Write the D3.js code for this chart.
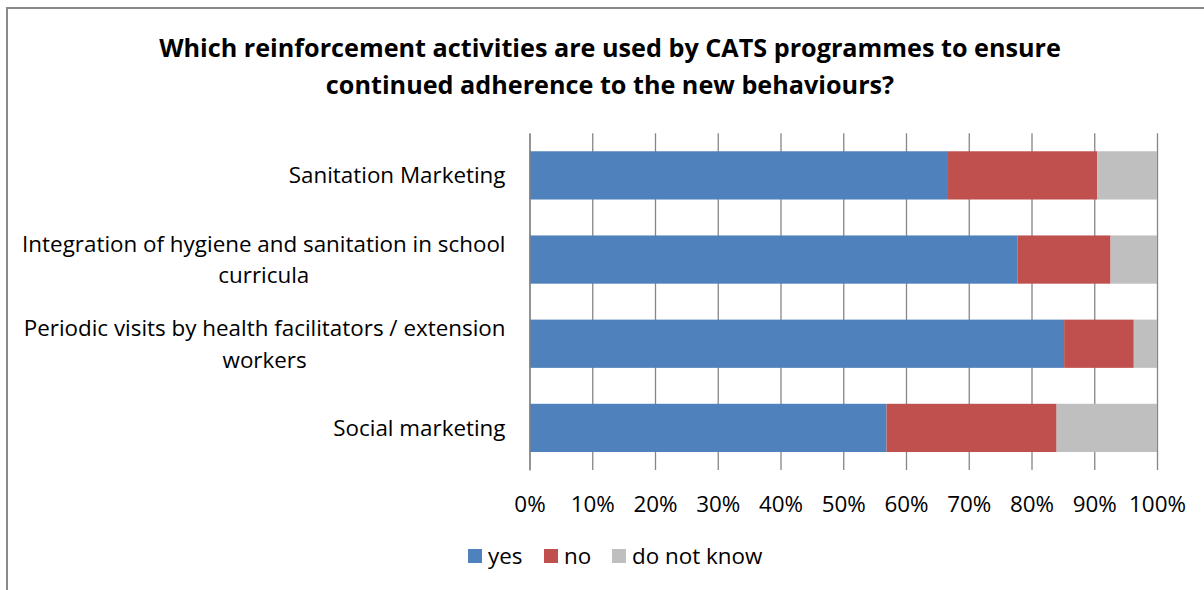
<!DOCTYPE html>
<html>
<head>
<meta charset="utf-8">
<script src="https://cdn.jsdelivr.net/npm/d3@7"></script>
<style>
  html, body { margin: 0; padding: 0; background: #fff; }
  svg { display: block; }
  text { font-family: "Open Sans", "Noto Sans", sans-serif; fill: #000; }
</style>
</head>
<body>
<svg id="chart" width="1204" height="590"></svg>
<script>
// Survey answers per reinforcement activity (share of programmes, %)
const categories = [
  "Sanitation Marketing",
  "Integration of hygiene and sanitation in school curricula",
  "Periodic visits by health facilitators / extension workers",
  "Social marketing"
];
const seriesNames = ["yes", "no", "do not know"];
const yesValues = [66.7, 77.8, 85.2, 56.9];
const noValues = [23.8, 14.8, 11.1, 27.1];
const dontKnowValues = [9.5, 7.4, 3.7, 16.0];
const tickValues = [0, 0.1, 0.2, 0.3, 0.4, 0.5, 0.6, 0.7, 0.8, 0.9, 1.0];
const titleLines = [
  "Which reinforcement activities are used by CATS programmes to ensure",
  "continued adherence to the new behaviours?"
];
const colors = ["#4F81BD", "#C0504D", "#BFBFBF"];

const FONT = "'Open Sans', 'Noto Sans', sans-serif";
const LABEL_SIZE = 22.4;
const svg = d3.select("#chart");

// outer chart frame
svg.append("rect")
  .attr("x", 7).attr("y", 8)
  .attr("width", 1210).attr("height", 600)
  .attr("fill", "#fff")
  .attr("stroke", "#898989").attr("stroke-width", 2);

// title
svg.append("g").selectAll("text")
  .data(titleLines)
  .join("text")
  .attr("x", 610)
  .attr("y", (d, i) => 57 + i * 37)
  .attr("text-anchor", "middle")
  .attr("font-size", 25.2)
  .attr("font-weight", "bold")
  .text(d => d);

const plot = { left: 529.5, right: 1157, top: 133.3, bottom: 470 };

const x = d3.scaleLinear().domain([0, 1]).range([plot.left, plot.right]);
const y = d3.scaleBand()
  .domain(categories)
  .range([plot.top, plot.bottom])
  .paddingInner(0.427)
  .paddingOuter(0.2135);

// rows normalised to 100%
const rows = categories.map((c, i) => {
  const total = yesValues[i] + noValues[i] + dontKnowValues[i];
  return {
    category: c,
    "yes": yesValues[i] / total,
    "no": noValues[i] / total,
    "do not know": dontKnowValues[i] / total
  };
});
const stacked = d3.stack().keys(seriesNames)(rows);

// vertical gridlines + percentage labels
const xAxis = svg.append("g")
  .attr("transform", `translate(0,${plot.bottom})`)
  .call(d3.axisBottom(x)
    .tickValues(tickValues)
    .tickFormat(d3.format(".0%"))
    .tickSizeInner(-(plot.bottom - plot.top))
    .tickSizeOuter(0)
    .tickPadding(26));
xAxis.select(".domain").remove();
xAxis.selectAll(".tick line").attr("stroke", "#868686").attr("stroke-width", 1.3);
xAxis.selectAll(".tick text")
  .attr("font-size", LABEL_SIZE)
  .attr("fill", "#000")
  .style("font-family", FONT);

// stacked bars
svg.append("g").selectAll("g")
  .data(stacked)
  .join("g")
  .attr("fill", (d, i) => colors[i])
  .selectAll("rect")
  .data(d => d)
  .join("rect")
  .attr("x", d => x(d[0]))
  .attr("y", d => y(d.data.category))
  .attr("width", d => x(d[1]) - x(d[0]))
  .attr("height", y.bandwidth());

// category axis
const yAxis = svg.append("g")
  .attr("transform", `translate(${plot.left},0)`)
  .call(d3.axisLeft(y).tickSize(0).tickPadding(24));
yAxis.select(".domain").attr("stroke", "#868686").attr("stroke-width", 1.3);
yAxis.selectAll(".tick text")
  .attr("font-size", LABEL_SIZE)
  .attr("fill", "#000")
  .style("font-family", FONT)
  .each(function () { wrap(d3.select(this), 500); });

// wrap a label into centred lines, block aligned to the axis side
function wrap(text, width) {
  const words = text.text().split(/\s+/);
  const lines = [];
  let line = [];
  text.text(null);
  const probe = text.append("tspan");
  for (const w of words) {
    line.push(w);
    probe.text(line.join(" "));
    if (probe.node().getComputedTextLength() > width && line.length > 1) {
      line.pop();
      lines.push(line.join(" "));
      line = [w];
    }
  }
  lines.push(line.join(" "));
  probe.remove();
  const lineH = 31.6;
  const x0 = +text.attr("x");
  const widths = lines.map(l => {
    const t = text.append("tspan").text(l);
    const wd = t.node().getComputedTextLength();
    t.remove();
    return wd;
  });
  const cx = x0 - d3.max(widths) / 2;
  text.attr("text-anchor", "middle").attr("dy", null);
  lines.forEach((l, i) => {
    text.append("tspan")
      .attr("x", cx)
      .attr("dy", i === 0 ? 8 - (lines.length - 1) * lineH / 2 : lineH)
      .text(l);
  });
}

// legend
const legendItems = [
  { name: seriesNames[0], color: colors[0], x: 468 },
  { name: seriesNames[1], color: colors[1], x: 544 },
  { name: seriesNames[2], color: colors[2], x: 612 }
];
const legend = svg.append("g").selectAll("g")
  .data(legendItems)
  .join("g")
  .attr("transform", d => `translate(${d.x},549)`);
legend.append("rect")
  .attr("width", 14).attr("height", 14)
  .attr("fill", d => d.color);
legend.append("text")
  .attr("x", 20).attr("y", 15)
  .attr("font-size", LABEL_SIZE)
  .text(d => d.name);
</script>
</body>
</html>
